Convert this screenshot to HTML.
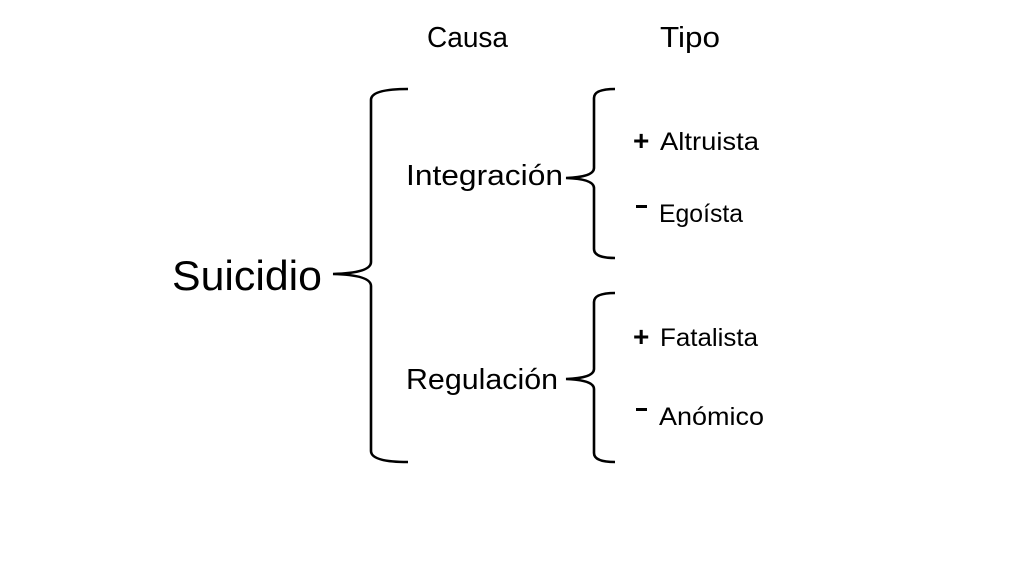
<!DOCTYPE html>
<html><head><style>
html,body{margin:0;padding:0;background:#fff;}
svg{display:block;}
text{font-family:"Liberation Sans",sans-serif;fill:#000;}
</style></head><body>
<svg width="1024" height="576" viewBox="0 0 1024 576">
<g fill="none" stroke="#000" stroke-width="2.6">
<path d="M408,89 Q371,89 371,100 L371,262 Q371,273 333,274 Q371,275 371,286 L371,451 Q371,462 408,462"/>
<path d="M615,89 Q594,89 594,98 L594,168 Q594,177 566,178 Q594,179 594,188 L594,249 Q594,258 615,258"/>
<path d="M615,293 Q594,293 594,302 L594,369 Q594,378 566,379 Q594,380 594,389 L594,453 Q594,462 615,462"/>
</g>
<text x="427" y="47" font-size="29" textLength="81" lengthAdjust="spacingAndGlyphs">Causa</text>
<text x="660" y="47" font-size="29" textLength="60" lengthAdjust="spacingAndGlyphs">Tipo</text>
<text x="172" y="290" font-size="42" textLength="150" lengthAdjust="spacingAndGlyphs">Suicidio</text>
<text x="406" y="185" font-size="29" textLength="157" lengthAdjust="spacingAndGlyphs">Integración</text>
<text x="406" y="389" font-size="29" textLength="152" lengthAdjust="spacingAndGlyphs">Regulación</text>
<text x="633" y="150" font-size="28" font-weight="bold">+</text>
<text x="660" y="150" font-size="25" textLength="99" lengthAdjust="spacingAndGlyphs">Altruista</text>
<rect x="636" y="205" width="11" height="3"/>
<text x="659" y="222" font-size="25" textLength="84" lengthAdjust="spacingAndGlyphs">Egoísta</text>
<text x="633" y="346" font-size="28" font-weight="bold">+</text>
<text x="660" y="346" font-size="25" textLength="98" lengthAdjust="spacingAndGlyphs">Fatalista</text>
<rect x="636" y="408" width="11" height="3"/>
<text x="659" y="425" font-size="25" textLength="105" lengthAdjust="spacingAndGlyphs">Anómico</text>
</svg>
</body></html>
